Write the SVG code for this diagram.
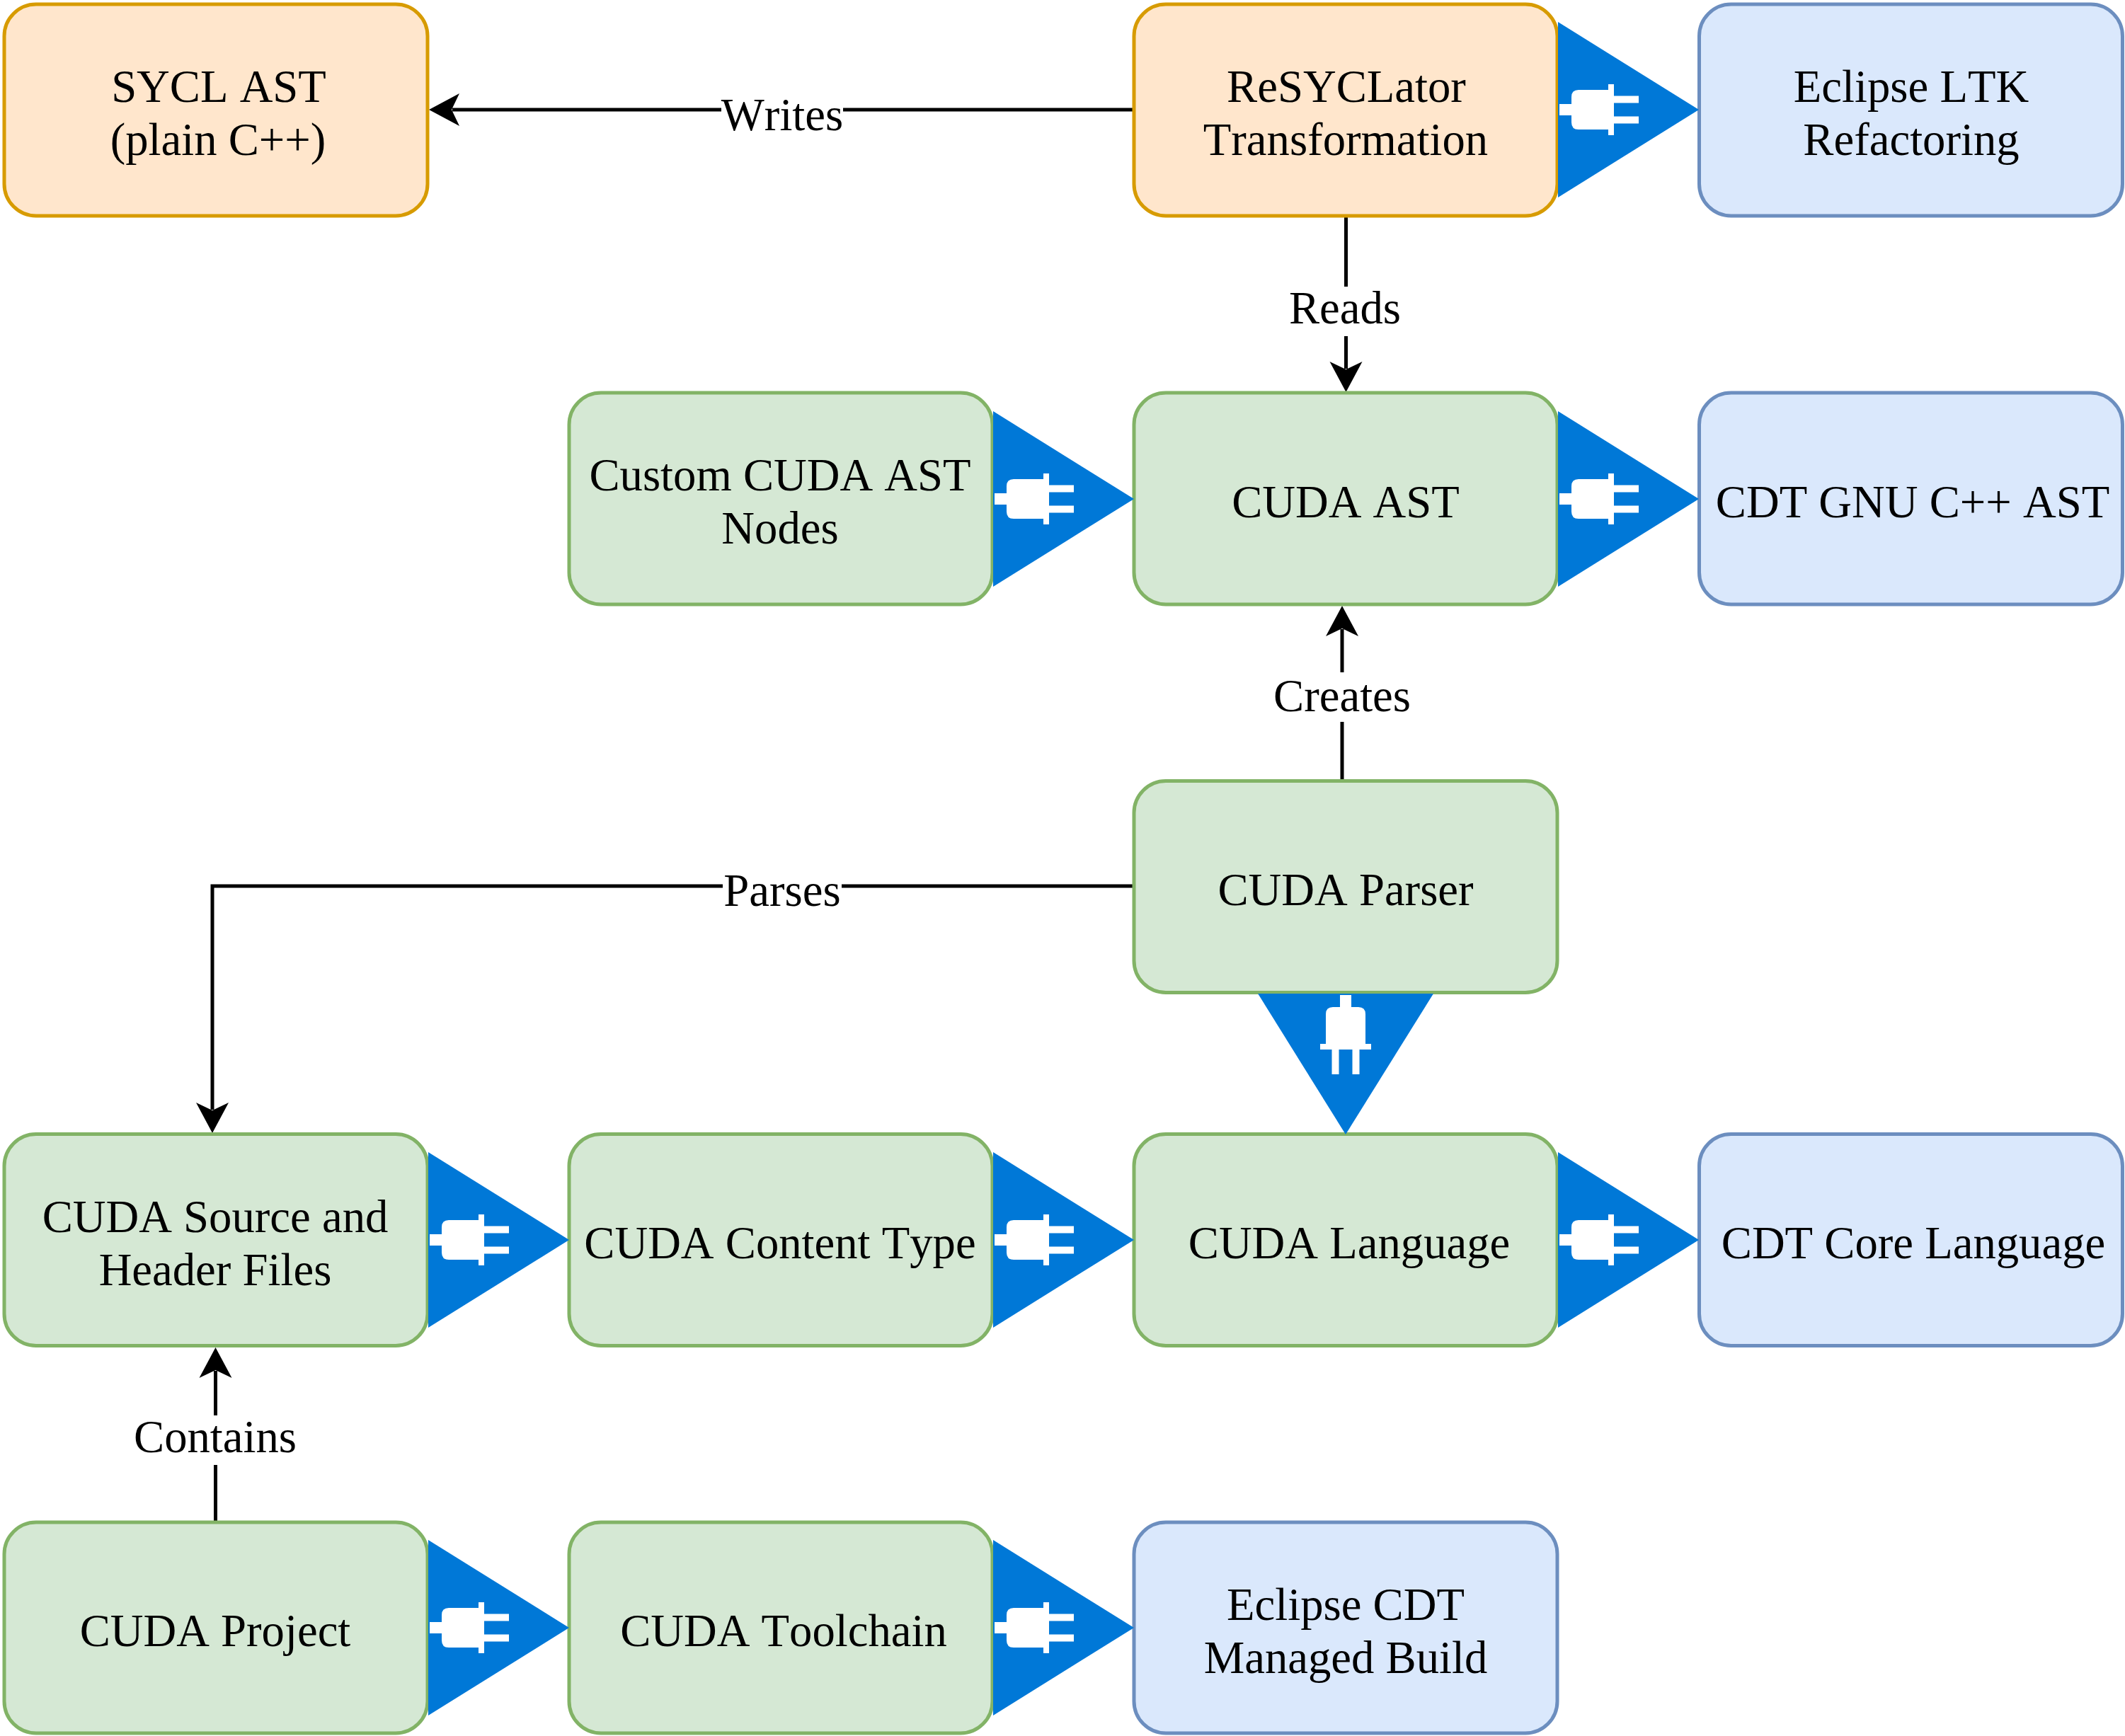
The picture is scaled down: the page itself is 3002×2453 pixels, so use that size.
<svg xmlns="http://www.w3.org/2000/svg" xmlns:xlink="http://www.w3.org/1999/xlink" width="3002" height="2453" viewBox="0 0 3002 2453">
<style>
.n{stroke-width:5}
.o{fill:#ffe6cc;stroke:#d79b00}
.g{fill:#d5e8d4;stroke:#82b366}
.b{fill:#dae8fc;stroke:#6c8ebf}
text{font-family:"Liberation Serif","Times New Roman",serif;font-size:64.7px;fill:#000;text-anchor:middle;font-kerning:none}
.c{fill:none;stroke:#000;stroke-width:5}
.lb{fill:#fff;stroke:none}
</style>
<defs>
<marker id="arrow" markerUnits="userSpaceOnUse" markerWidth="50" markerHeight="50" refX="10" refY="24" orient="auto">
<path d="M43 24L0 1L11 24L0 47Z" fill="#000"/>
</marker>
<g id="plug">
<path d="M0-124L199 0L0 124Z" fill="#0078d7"/>
<path d="M2-8H19V-18Q19-28 29-28H71V-36H79V-19.500H114V-9.500H79V9.500H114V19.500H79V36H71V28H29Q19 28 19 18V8H2Z" fill="#fff"/>
</g>
</defs>
<g id="connectors">
<path class="c" d="M1602 155H639" marker-end="url(#arrow)"/>
<path class="c" d="M1901.500 305V521" marker-end="url(#arrow)"/>
<path class="c" d="M1896 1103V889" marker-end="url(#arrow)"/>
<path class="c" d="M1602 1252H300V1568" marker-end="url(#arrow)"/>
<path class="c" d="M304.500 2151V1937" marker-end="url(#arrow)"/>
<rect class="lb" x="1019" y="125" width="172" height="70"/>
<text x="1105" y="184">Writes</text>
<rect class="lb" x="1820" y="405" width="162" height="70"/>
<text x="1900" y="457">Reads</text>
<rect class="lb" x="1796" y="950" width="200" height="70"/>
<text x="1896" y="1005">Creates</text>
<rect class="lb" x="1021" y="1222" width="168" height="70"/>
<text x="1105" y="1280">Parses</text>
<rect class="lb" x="186" y="2000" width="236" height="70"/>
<text x="304" y="2052">Contains</text>
</g>
<g id="sycl-ast"><rect class="n o" x="6" y="6" width="598" height="299" rx="45"/><text x="309" y="144">SYCL AST</text><text x="308" y="219">(plain C++)</text></g>
<g id="resyclator"><rect class="n o" x="1602" y="6" width="598" height="299" rx="45"/><text x="1902" y="144">ReSYCLator</text><text x="1901" y="219">Transformation</text></g>
<g id="eclipse-ltk"><rect class="n b" x="2400.500" y="6" width="598" height="299" rx="45"/><text x="2700" y="144">Eclipse LTK</text><text x="2700" y="219">Refactoring</text></g>
<g id="custom-ast"><rect class="n g" x="804" y="555" width="598" height="299" rx="45"/><text x="1102" y="693">Custom CUDA AST</text><text x="1102" y="768">Nodes</text></g>
<g id="cuda-ast"><rect class="n g" x="1602" y="555" width="598" height="299" rx="45"/><text x="1901" y="731">CUDA AST</text></g>
<g id="cdt-ast"><rect class="n b" x="2400.500" y="555" width="598" height="299" rx="45"/><text x="2702" y="731">CDT GNU C++ AST</text></g>
<g id="cuda-parser"><rect class="n g" x="1602" y="1103.500" width="598" height="299" rx="45"/><text x="1901" y="1279">CUDA Parser</text></g>
<g id="cuda-files"><rect class="n g" x="6" y="1602.500" width="598" height="299" rx="45"/><text x="304" y="1741">CUDA Source and</text><text x="304" y="1816">Header Files</text></g>
<g id="cuda-content"><rect class="n g" x="804" y="1602.500" width="598" height="299" rx="45"/><text x="1102" y="1778">CUDA Content Type</text></g>
<g id="cuda-language"><rect class="n g" x="1602" y="1602.500" width="598" height="299" rx="45"/><text x="1906" y="1778">CUDA Language</text></g>
<g id="cdt-language"><rect class="n b" x="2400.500" y="1602.500" width="598" height="299" rx="45"/><text x="2703" y="1778">CDT Core Language</text></g>
<g id="cuda-project"><rect class="n g" x="6" y="2151" width="598" height="298" rx="45"/><text x="304" y="2326">CUDA Project</text></g>
<g id="cuda-toolchain"><rect class="n g" x="804" y="2151" width="598" height="298" rx="45"/><text x="1107" y="2326">CUDA Toolchain</text></g>
<g id="eclipse-managed"><rect class="n b" x="1602" y="2151" width="598" height="298" rx="45"/><text x="1901" y="2289">Eclipse CDT</text><text x="1901" y="2364">Managed Build</text></g>
<g id="plug-resyclator-ltk"><use href="#plug" transform="translate(2201 155)"/></g>
<g id="plug-custom-ast"><use href="#plug" transform="translate(1403 705)"/></g>
<g id="plug-ast-cdt"><use href="#plug" transform="translate(2201 705)"/></g>
<g id="plug-parser-language"><use href="#plug" transform="translate(1901 1404) rotate(90)"/></g>
<g id="plug-files-content"><use href="#plug" transform="translate(605 1752)"/></g>
<g id="plug-content-language"><use href="#plug" transform="translate(1403 1752)"/></g>
<g id="plug-language-cdt"><use href="#plug" transform="translate(2201 1752)"/></g>
<g id="plug-project-toolchain"><use href="#plug" transform="translate(605 2300)"/></g>
<g id="plug-toolchain-managed"><use href="#plug" transform="translate(1403 2300)"/></g>
</svg>
